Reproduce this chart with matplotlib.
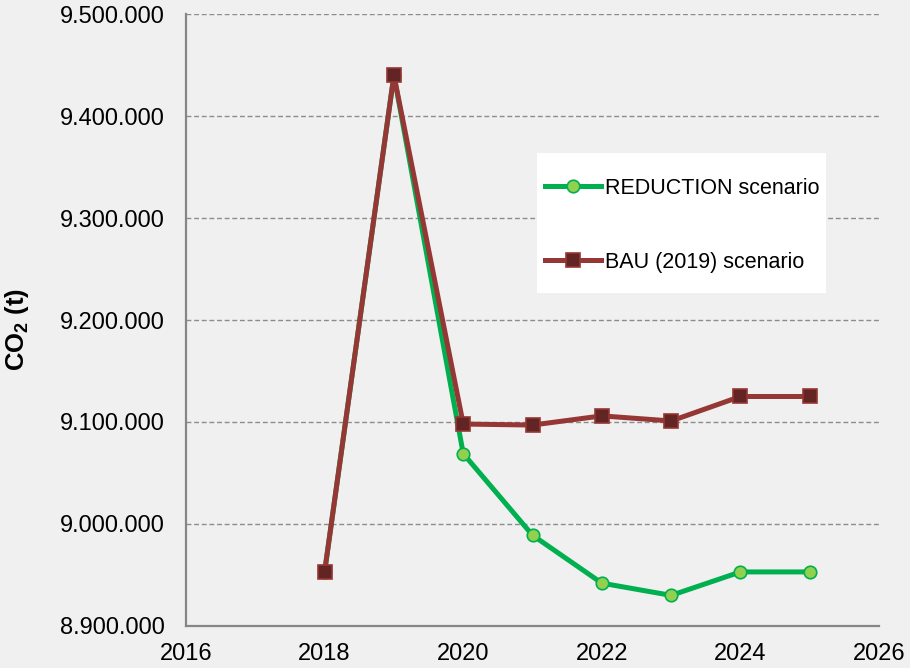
import matplotlib.pyplot as plt
from matplotlib.patches import Rectangle
from matplotlib.ticker import FuncFormatter

plt.rcParams['font.family'] = ['Liberation Sans', 'DejaVu Sans']
plt.rcParams['mathtext.fontset'] = 'custom'
plt.rcParams['mathtext.bf'] = 'Liberation Sans:bold'
plt.rcParams['mathtext.rm'] = 'Liberation Sans'

years = [2018, 2019, 2020, 2021, 2022, 2023, 2024, 2025]
reduction = [8953000, 9440000, 9069000, 8989000, 8942000, 8930000, 8953000, 8953000]
bau = [8953000, 9440000, 9098000, 9097000, 9106000, 9101000, 9125000, 9125000]

bg = '#f0f0f0'
fig = plt.figure(figsize=(9.1, 6.68), dpi=100, facecolor=bg)
ax = fig.add_axes([0.2044, 0.0629, 0.7616, 0.9161], facecolor=bg)

ax.plot(years, reduction, color='#00b050', lw=3.6, marker='o', ms=9,
        mfc='#92d050', mec='#00b050', mew=1.2, label='REDUCTION scenario', zorder=3)
ax.plot(years, bau, color='#953735', lw=3.6, marker='s', ms=10,
        mfc='#632523', mec='#953735', mew=1.2, label='BAU (2019) scenario', zorder=4)

ax.set_xlim(2016, 2026)
ax.set_ylim(8900000, 9500000)
ax.set_xticks(range(2016, 2027, 2))
ax.set_yticks(range(8900000, 9500001, 100000))
ax.yaxis.set_major_formatter(FuncFormatter(lambda v, p: f'{int(v):,}'.replace(',', '.')))
ax.tick_params(length=0, labelsize=17)
ax.tick_params(axis='y', pad=15.5)
ax.tick_params(axis='x', pad=12)

ax.grid(axis='y', color='#8c8c8c', ls=(0, (3.5, 2)), lw=1)
ax.set_axisbelow(True)
for s in ['top', 'right']:
    ax.spines[s].set_visible(False)
for s in ['left', 'bottom']:
    ax.spines[s].set_color('#868686')
    ax.spines[s].set_linewidth(1.6)

ax.set_ylabel(r'CO$_{\mathbf{2}}$ (t)', fontsize=18.5, fontweight='bold')
ax.yaxis.set_label_coords(-0.223, 0.484)

# white box behind the legend entries
ax.add_patch(Rectangle((0.5065, 0.544), 0.417, 0.229, transform=ax.transAxes,
                       facecolor='white', edgecolor='none', zorder=5))
leg = ax.legend(loc='center left', bbox_to_anchor=(0.518, 0.655), fontsize=15.5,
                frameon=False, labelspacing=2.45, handlelength=2.6, handletextpad=0.2,
                borderpad=0, borderaxespad=0)
leg.set_zorder(6)

fig.savefig('out.png', dpi=100, facecolor=bg)
